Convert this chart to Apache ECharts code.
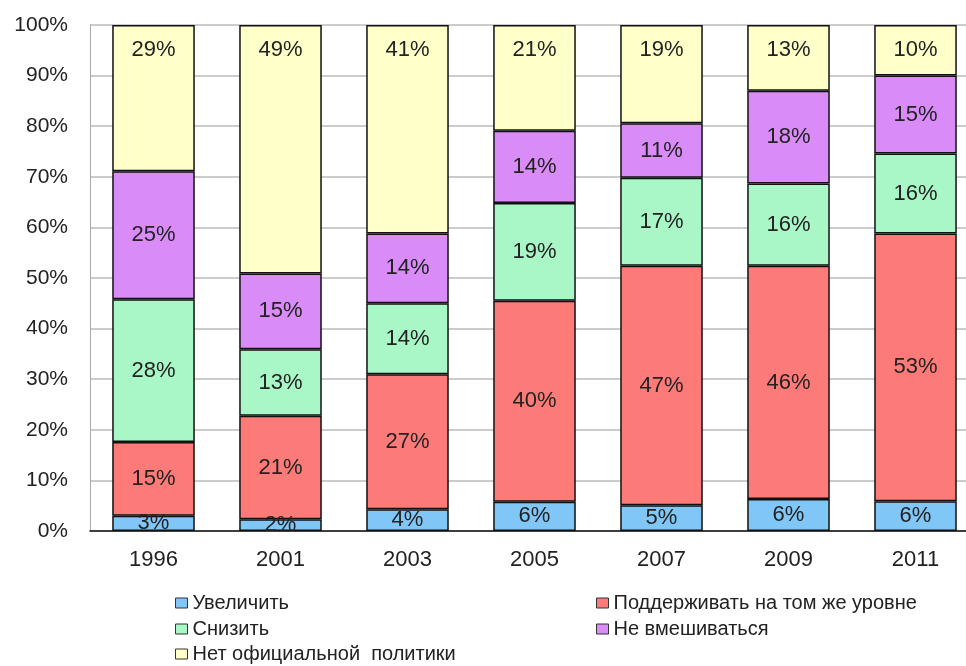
<!DOCTYPE html>
<html>
<head>
<meta charset="utf-8">
<title></title>
<script src="https://cdn.jsdelivr.net/npm/echarts@6/dist/echarts.min.js"></script>
<style>
    html, body { margin: 0; padding: 0; background: #fff; }
</style>
</head>
<body>
<div id="container" style="width: 966px; height: 666px;"></div>
<script>
    var years = ['1996', '2001', '2003', '2005', '2007', '2009', '2011'];
    var yTicks = ['0%', '10%', '20%', '30%', '40%', '50%', '60%', '70%', '80%', '90%', '100%'];
    var names = ['Увеличить', 'Поддерживать на том же уровне', 'Снизить', 'Не вмешиваться', 'Нет официальной  политики'];

    // доли, %
    var uvelichit = [3.0, 2.3, 4.3, 5.8, 5.1, 6.3, 5.9];
    var podderzhivat = [14.6, 20.5, 26.7, 39.7, 47.3, 46.1, 52.9];
    var snizit = [28.2, 13.1, 14.0, 19.3, 17.4, 16.3, 15.8];
    var nevmeshivatsya = [25.3, 15.0, 13.8, 14.3, 10.8, 18.3, 15.4];
    var netPolitiki = [28.9, 49.1, 41.2, 20.9, 19.4, 13.0, 10.0];

    var colors = ['#80c6f6', '#fc7b78', '#a9f6c6', '#d98cf7', '#ffffc9'];
    var font = '"Liberation Sans", Arial, sans-serif';

    function bar(name, data, color, pos) {
        return {
            name: name,
            type: 'bar',
            stack: 'all',
            data: data,
            barCategoryGap: '35%',
            itemStyle: { color: color, borderColor: '#111', borderWidth: 1.5 },
            label: {
                show: true,
                position: pos,
                distance: 14,
                color: '#222',
                fontSize: 22,
                fontFamily: font,
                formatter: function (p) { return Math.round(p.value) + '%'; }
            }
        };
    }

    // одна легенда на пункт, чтобы разложить в две колонки
    function leg(name, x, y) {
        return {
            data: [name],
            left: x, top: y,
            padding: 0,
            itemWidth: 12, itemHeight: 10,
            icon: 'rect',
            itemStyle: { borderColor: '#333', borderWidth: 1 },
            textStyle: { fontSize: 20, color: '#222', fontFamily: font },
            selectedMode: false
        };
    }

    var dom = document.getElementById('container');
    var myChart = echarts.init(dom, null, { renderer: 'canvas' });
    var option = {
        animation: false,
        color: colors,
        grid: { left: 90, top: 25, width: 889, bottom: 135, containLabel: false, outerBoundsMode: 'none' },
        legend: [
            leg(names[0], 175, 593),
            leg(names[2], 175, 619),
            leg(names[4], 175, 644),
            leg(names[1], 596, 593),
            leg(names[3], 596, 619)
        ],
        xAxis: {
            type: 'category',
            data: years,
            axisLine: { lineStyle: { color: '#111', width: 1.5 } },
            axisTick: { show: false },
            axisLabel: { fontSize: 22, color: '#222', fontFamily: font, margin: 18 }
        },
        yAxis: {
            type: 'value',
            min: 0,
            max: 100,
            interval: 10,
            axisLine: { show: true, lineStyle: { color: '#aaa' } },
            axisTick: { show: false },
            splitLine: { lineStyle: { color: '#bbb', width: 1.5 } },
            axisLabel: {
                fontSize: 21, color: '#222', fontFamily: font, margin: 22,
                formatter: function (v) { return yTicks[Math.round(v / 10)]; }
            }
        },
        series: [
            bar(names[0], uvelichit, colors[0], 'inside'),
            bar(names[1], podderzhivat, colors[1], 'inside'),
            bar(names[2], snizit, colors[2], 'inside'),
            bar(names[3], nevmeshivatsya, colors[3], 'inside'),
            bar(names[4], netPolitiki, colors[4], 'insideTop')
        ]
    };
    if (option && typeof option === 'object') {
        myChart.setOption(option);
    }
</script>
</body>
</html>
